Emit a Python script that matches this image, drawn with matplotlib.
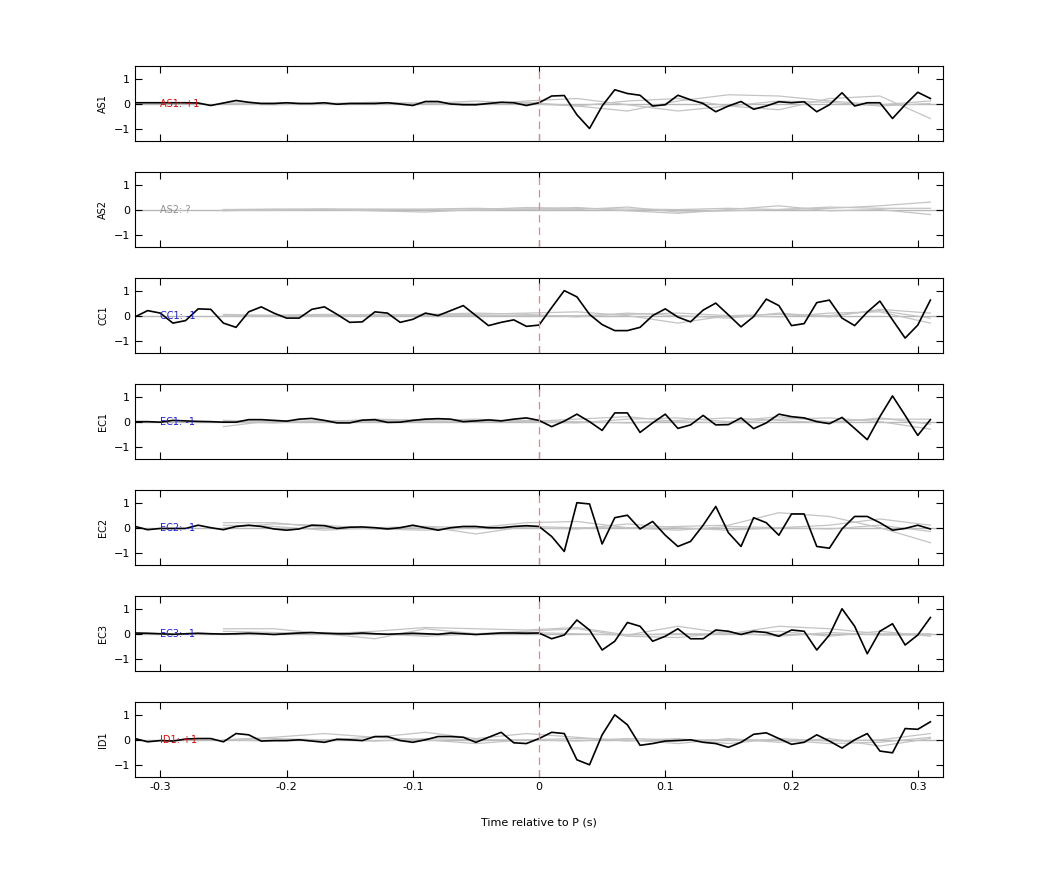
import numpy as np
import matplotlib
matplotlib.use('Agg')
import matplotlib.pyplot as plt

# time axis (s) for the black traces, 10 ms steps
t = np.round(np.arange(-0.32, 0.315, 0.01), 2)
# time axis for the grey reference traces
tg = np.round(np.arange(-0.25, 0.32, 0.04), 2)

channels = ['AS1', 'AS2', 'CC1', 'EC1', 'EC2', 'EC3', 'ID1']
labels = ['AS1: +1', 'AS2: ?', 'CC1: -1', 'EC1: -1', 'EC2: -1', 'EC3: -1', 'ID1: +1']
label_colors = ['#d01010', '#909090', '#2020d0', '#2020d0', '#2020d0', '#2020d0', '#d01010']

as1 = [0.03, 0.03, 0.03, 0.03, 0.03, 0.02, -0.08, 0.02, 0.12, 0.05, 0, 0, 0.03, 0, 0, 0.03,
       -0.03, 0, 0, 0, 0.03, -0.02, -0.08, 0.08, 0.08, -0.02, -0.05, -0.05, 0.0, 0.05, 0.03, -0.08,
       0.03, 0.3, 0.32, -0.45, -1.0, -0.1, 0.55, 0.4, 0.33, -0.1, -0.05, 0.33, 0.15, 0.0, -0.33, -0.1,
       0.08, -0.23, -0.1, 0.07, 0.03, 0.07, -0.33, -0.05, 0.43, -0.1, 0.03, 0.03, -0.6, -0.05, 0.45, 0.2]
cc1 = [-0.05, 0.2, 0.1, -0.3, -0.2, 0.27, 0.25, -0.3, -0.47, 0.15, 0.35, 0.1, -0.1, -0.1, 0.25, 0.35,
       0.05, -0.27, -0.25, 0.15, 0.1, -0.27, -0.15, 0.1, 0.0, 0.2, 0.4, 0.0, -0.4, -0.27, -0.17, -0.43,
       -0.38, 0.32, 1.0, 0.75, 0.05, -0.36, -0.6, -0.6, -0.47, 0.0, 0.27, -0.06, -0.25, 0.22, 0.5, 0.03,
       -0.45, -0.04, 0.66, 0.4, -0.4, -0.32, 0.52, 0.62, -0.1, -0.4, 0.14, 0.58, -0.17, -0.9, -0.38, 0.62]
ec1 = [0, 0, -0.02, 0.05, 0.03, 0.01, 0, -0.02, -0.02, 0.08, 0.08, 0.05, 0.02, 0.1, 0.13, 0.05,
       -0.05, -0.05, 0.06, 0.08, -0.03, -0.02, 0.05, 0.1, 0.12, 0.1, 0.0, 0.03, 0.07, 0.03, 0.1, 0.15,
       0.05, -0.2, 0.02, 0.3, 0.0, -0.35, 0.35, 0.35, -0.43, -0.05, 0.3, -0.27, -0.13, 0.25, -0.13, -0.12,
       0.15, -0.28, -0.05, 0.3, 0.2, 0.15, 0.0, -0.08, 0.17, -0.27, -0.72, 0.2, 1.03, 0.25, -0.55, 0.08]
ec2 = [0.05, -0.08, -0.03, -0.03, -0.03, 0.1, 0.0, -0.08, 0.05, 0.1, 0.05, -0.05, -0.1, -0.05, 0.1, 0.08,
       -0.03, 0.02, 0.03, 0.0, -0.05, 0.0, 0.1, 0.0, -0.1, 0.0, 0.05, 0.05, 0.0, 0.0, 0.05, 0.08,
       0.05, -0.35, -0.95, 1.0, 0.95, -0.65, 0.4, 0.5, -0.05, 0.25, -0.3, -0.75, -0.55, 0.1, 0.85, -0.2,
       -0.75, 0.4, 0.2, -0.3, 0.55, 0.55, -0.75, -0.82, -0.05, 0.45, 0.45, 0.2, -0.1, -0.03, 0.1, -0.05]
ec3 = [0.03, 0.02, 0.0, -0.02, 0.0, 0.02, 0.0, -0.01, 0.0, 0.02, 0.0, -0.03, 0.0, 0.03, 0.05, 0.02,
       0.0, 0.0, 0.03, 0.0, -0.02, 0.0, 0.02, 0.0, -0.02, 0.03, 0.0, -0.03, 0.0, 0.03, 0.03, 0.02,
       0.03, -0.2, -0.05, 0.55, 0.15, -0.65, -0.3, 0.45, 0.3, -0.3, -0.1, 0.2, -0.2, -0.2, 0.15, 0.1,
       -0.03, 0.1, 0.05, -0.1, 0.15, 0.1, -0.65, -0.05, 1.0, 0.3, -0.8, 0.1, 0.4, -0.45, -0.05, 0.65]
id1 = [0.05, -0.08, -0.03, -0.05, 0.03, 0.05, 0.05, -0.08, 0.25, 0.2, -0.05, -0.03, -0.03, 0.0, -0.05, -0.1,
       0.02, 0.0, -0.03, 0.13, 0.13, -0.03, -0.1, 0.0, 0.13, 0.13, 0.1, -0.1, 0.1, 0.3, -0.12, -0.15,
       0.05, 0.3, 0.25, -0.8, -1.0, 0.2, 1.0, 0.6, -0.22, -0.15, -0.05, -0.03, 0.0, -0.1, -0.15, -0.3,
       -0.1, 0.22, 0.28, 0.05, -0.18, -0.1, 0.2, -0.05, -0.33, 0.0, 0.25, -0.45, -0.52, 0.45, 0.42, 0.72]
black = [as1, None, cc1, ec1, ec2, ec3, id1]

# grey reference traces (three per channel)
grey = [
    [[0.0, -0.05, 0.0, 0.05, 0.0, -0.05, 0.1, 0.2, -0.05, -0.3, -0.1, 0.1, 0.05, -0.1, 0.0],
     [0.02, 0.0, -0.02, 0.0, 0.02, 0.0, 0.05, -0.1, -0.3, 0.1, 0.35, 0.3, 0.1, -0.05, 0.1],
     [0.0, 0.02, 0.0, -0.02, 0.0, 0.1, 0.0, -0.1, 0.1, 0.2, -0.1, -0.25, 0.2, 0.3, -0.6]],
    [[0.0, 0.02, 0.0, -0.05, -0.1, 0.0, 0.08, 0.05, 0.02, 0.0, 0.05, 0.0, 0.05, 0.15, 0.3],
     [-0.05, 0.0, 0.03, 0.0, 0.02, 0.05, 0.0, 0.08, -0.05, -0.15, 0.0, 0.15, -0.05, 0.0, -0.2],
     [0.0, -0.03, 0.0, 0.02, 0.0, -0.03, 0.03, 0.0, 0.1, -0.1, -0.05, 0.0, 0.1, 0.05, 0.05]],
    [[0.0, 0.02, 0.05, 0.0, 0.03, 0.05, 0.1, 0.15, 0.0, -0.3, 0.0, 0.05, 0.0, 0.2, -0.1],
     [0.05, 0.0, 0.0, 0.05, 0.0, 0.0, 0.0, 0.0, 0.05, 0.1, 0.0, -0.05, 0.1, 0.15, -0.3],
     [-0.02, 0.0, -0.03, 0.0, 0.05, 0.1, 0.05, -0.05, 0.1, 0.0, -0.1, 0.1, -0.05, 0.25, 0.1]],
    [[-0.2, 0.05, 0.0, 0.1, 0.05, 0.1, 0.0, 0.1, 0.2, 0.0, -0.05, 0.1, 0.15, 0.0, -0.3],
     [0.0, -0.05, 0.05, 0.0, 0.1, 0.05, 0.0, -0.05, 0.1, 0.15, 0.0, 0.2, 0.0, 0.1, 0.1],
     [0.05, 0.0, 0.0, 0.05, 0.0, 0.0, 0.05, 0.0, -0.05, 0.05, 0.15, 0.05, -0.05, 0.15, -0.1]],
    [[0.2, 0.2, 0.0, -0.05, 0.05, 0.0, 0.2, 0.25, 0.0, 0.05, 0.1, 0.6, 0.45, 0.0, -0.6],
     [0.1, 0.05, -0.1, 0.0, 0.05, -0.25, 0.05, 0.0, 0.0, -0.1, 0.05, 0.0, 0.1, 0.35, 0.1],
     [0.0, 0.15, 0.1, -0.05, -0.1, 0.0, 0.0, -0.05, 0.15, 0.0, -0.1, 0.0, -0.05, 0.1, -0.15]],
    [[0.2, 0.2, 0.0, 0.1, 0.25, 0.2, 0.15, 0.25, -0.05, 0.3, 0.0, 0.3, 0.2, 0.0, 0.0],
     [0.1, 0.05, 0.0, -0.2, 0.2, 0.0, 0.05, 0.0, -0.05, 0.0, 0.0, 0.1, -0.1, 0.1, -0.1],
     [0.0, 0.0, 0.05, 0.0, -0.1, 0.0, 0.1, 0.2, -0.1, -0.15, 0.05, -0.1, 0.05, -0.05, -0.05]],
    [[0.0, 0.1, 0.25, 0.1, 0.3, 0.05, 0.25, 0.1, -0.05, 0.05, -0.15, 0.05, -0.05, 0.0, 0.25],
     [0.0, 0.05, 0.0, 0.1, 0.0, -0.15, 0.0, 0.05, 0.0, -0.15, 0.05, -0.1, 0.05, -0.25, 0.05],
     [0.0, -0.05, 0.0, -0.05, 0.05, 0.0, 0.0, -0.05, 0.05, 0.0, 0.0, 0.0, -0.15, -0.1, 0.1]],
]

fig = plt.figure(figsize=(10.42, 8.75), dpi=100)
left, width, height, step = 0.1296, 0.7754, 0.0857, 0.1212
top_bottom = 1 - 141 / 875

for i, ch in enumerate(channels):
    ax = fig.add_axes([left, top_bottom - i * step, width, height])
    ax.axhline(0, color='#b8b8b8', lw=1, zorder=1)
    for g in grey[i]:
        ax.plot(tg, g, color='#c4c4c4', lw=0.9, zorder=2)
    if black[i] is not None:
        ax.plot(t, black[i], color='black', lw=1.2, zorder=3)
    ax.axvline(0, color='#f08080', lw=0.9, ls=(0, (6, 4)), zorder=4)
    ax.text(-0.3, 0, labels[i], color=label_colors[i], fontsize=7, va='center', ha='left', zorder=5)
    ax.set_xlim(-0.32, 0.32)
    ax.set_ylim(-1.5, 1.5)
    ax.set_yticks([-1, 0, 1])
    ax.set_xticks([-0.3, -0.2, -0.1, 0, 0.1, 0.2, 0.3])
    ax.tick_params(direction='in', top=True, right=True, labelsize=8, length=5)
    ax.set_ylabel(ch, fontsize=7)
    if i < len(channels) - 1:
        ax.set_xticklabels([])
    else:
        ax.set_xticklabels(['-0.3', '-0.2', '-0.1', '0', '0.1', '0.2', '0.3'])
        ax.set_xlabel('Time relative to P (s)', fontsize=8, labelpad=18)

fig.savefig('out.png', dpi=100)
